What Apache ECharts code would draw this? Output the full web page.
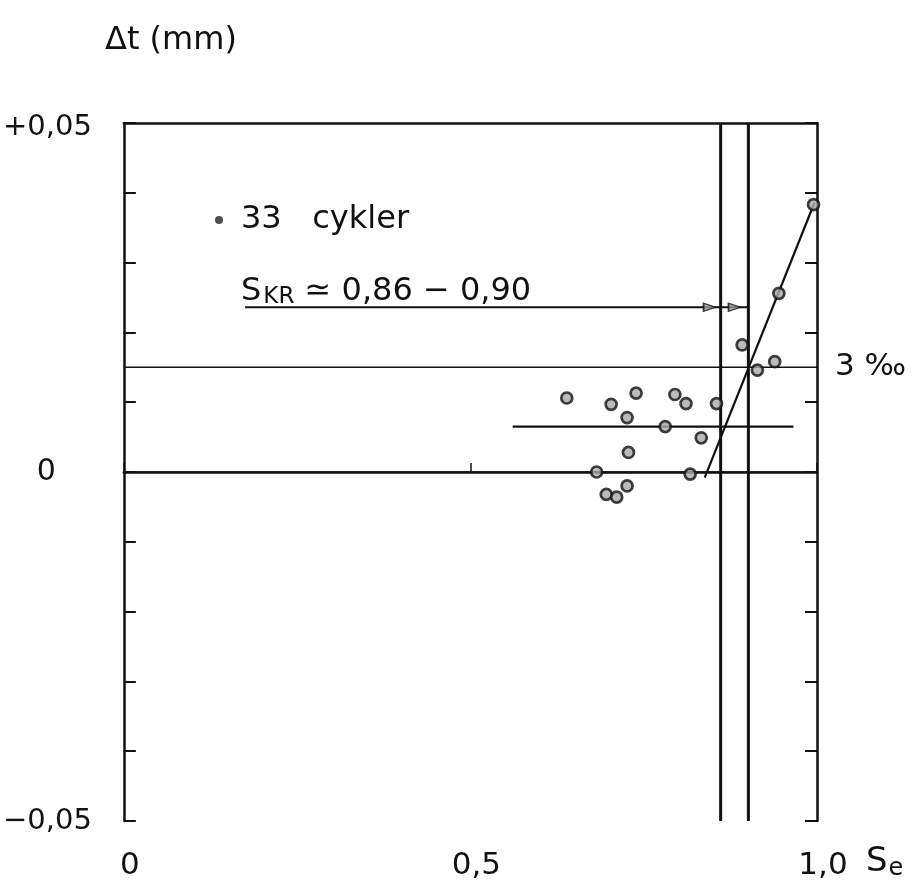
<!DOCTYPE html>
<html>
<head>
<meta charset="utf-8">
<script src="https://cdn.jsdelivr.net/npm/echarts@6/dist/echarts.min.js"></script>
<style>
html,body{margin:0;padding:0;background:#fff;}
#chart{width:919px;height:895px;}
</style>
</head>
<body>
<div id="chart"></div>
<script>
// ---- data ----
const seValues = [0.639,0.703,0.739,0.726,0.795,0.811,0.855,0.781,0.833,0.728,0.682,0.817,0.726,0.696,0.711,0.995,0.945,0.892,0.939,0.914];
const dtValues = [0.0106,0.0097,0.0113,0.0078,0.0111,0.0098,0.0098,0.0065,0.0049,0.0028,0.0000,-0.0003,-0.0020,-0.0032,-0.0036,0.0383,0.0256,0.0182,0.0158,0.0146];
const xTickLabels = {0: '0', 0.5: '0,5', 1: '1,0'};
const yTickLabels = {'0.05': '+0,05', '0': '0', '-0.05': '\u22120,05'};
const zeroLine = [[0, 0], [1, 0]];
const limitLine = [[0, 0.015], [1, 0.015]];
const skrLow = [[0.861, -0.05], [0.861, 0.05]];
const skrHigh = [[0.901, -0.05], [0.901, 0.05]];
const fitLine = [[0.838, -0.0008], [0.996, 0.0385]];
const meanLine = [[0.561, 0.0065], [0.966, 0.0065]];
const arrowLine = [[0.175, 0.0236], [0.901, 0.0236]];
const arrowHeads = [[0.845, 0.0236], [0.881, 0.0236]];
const legendLabel = '33 cykler';

const FONT = 'DejaVu Sans';
const points = seValues.map((v, i) => [v, dtValues[i]]);

function lineSeries(data, width) {
  return {
    type: 'line', data: data, symbol: 'none', silent: true,
    lineStyle: {color: '#111', width: width}, z: 3
  };
}

const chart = echarts.init(document.getElementById('chart'), null, {renderer: 'canvas'});
chart.setOption({
  animation: false,
  backgroundColor: '#fff',
  grid: {left: 121, top: 123, right: 102, bottom: 74, containLabel: false},
  legend: {
    data: [legendLabel], left: 210, top: 199, icon: 'circle',
    itemWidth: 8, itemHeight: 8,
    itemStyle: {color: '#222', borderWidth: 0},
    formatter: name => name.replace(' ', '   '),
    textStyle: {fontFamily: FONT, fontSize: 32, color: '#111', padding: [0, 0, 0, 13]}
  },
  xAxis: [{
    type: 'value', min: 0, max: 1, interval: 0.5, position: 'bottom',
    axisLine: {show: true, lineStyle: {color: '#111', width: 2.5}},
    axisTick: {show: true, inside: true, length: 9, lineStyle: {color: '#111', width: 1.5}},
    splitLine: {show: false},
    axisLabel: {
      margin: 29, fontFamily: FONT, fontSize: 31, color: '#111', padding: [0, 0, 0, 12],
      formatter: v => xTickLabels[v] ?? ''
    }
  }, {
    type: 'value', min: 0, max: 1, position: 'top',
    axisLine: {show: true, onZero: false, lineStyle: {color: '#111', width: 2.5}},
    axisTick: {show: false}, axisLabel: {show: false}, splitLine: {show: false}
  }],
  yAxis: [{
    type: 'value', min: -0.05, max: 0.05, interval: 0.01, position: 'left',
    axisLine: {show: true, onZero: false, lineStyle: {color: '#111', width: 2.5}},
    axisTick: {show: true, inside: true, length: 12, lineStyle: {color: '#111', width: 2}},
    splitLine: {show: false},
    axisLabel: {
      margin: 32, fontFamily: FONT, fontSize: 29, color: '#111',
      formatter: v => {
        const k = String(Math.round(v * 100) / 100);
        if (k === '0') return '{z|0}';
        if (k === '0.05') return '{p|+0,05}';
        return yTickLabels[k] ?? '';
      },
      rich: {
        z: {fontFamily: FONT, fontSize: 30, color: '#111', padding: [0, 36, 0, 0]},
        p: {fontFamily: FONT, fontSize: 29, color: '#111', padding: [8, 0, 0, 0]}
      }
    }
  }, {
    type: 'value', min: -0.05, max: 0.05, interval: 0.01, position: 'right',
    axisLine: {show: true, onZero: false, lineStyle: {color: '#111', width: 2.5}},
    axisTick: {show: true, inside: true, length: 12, lineStyle: {color: '#111', width: 2}},
    axisLabel: {show: false}, splitLine: {show: false}
  }],
  series: [
    lineSeries(zeroLine, 1.5),
    lineSeries(limitLine, 1.5),
    lineSeries(skrLow, 3),
    lineSeries(skrHigh, 3),
    lineSeries(fitLine, 2.2),
    lineSeries(meanLine, 2.2),
    lineSeries(arrowLine, 1.8),
    {
      type: 'scatter', data: arrowHeads, symbol: 'triangle', symbolRotate: -90,
      symbolSize: [8, 12], silent: true, z: 4,
      itemStyle: {color: '#999', borderColor: '#111', borderWidth: 1.5}
    },
    {
      name: legendLabel, type: 'scatter', data: points, symbol: 'circle', symbolSize: 11, z: 5,
      itemStyle: {color: '#aaa', borderColor: '#111', borderWidth: 2.7}
    }
  ],
  graphic: [
    {type: 'text', left: 105, top: 25, style: {text: '\u0394t (mm)', font: '32px "DejaVu Sans"', fill: '#111'}},
    {type: 'text', left: 241, top: 276, style: {
      text: '{s|S}{sub|KR}{t| \u2243 0,86 \u2212 0,90}',
      rich: {
        s: {font: '32px "DejaVu Sans"', fill: '#111'},
        sub: {font: '23px "DejaVu Sans"', fill: '#111', padding: [10, 0, 0, 2]},
        t: {font: '32px "DejaVu Sans"', fill: '#111'}
      }
    }},
    {type: 'text', left: 835, top: 351, style: {text: '3 \u2030', font: '31px "DejaVu Sans"', fill: '#111'}},
    {type: 'text', left: 866, top: 845, style: {
      text: '{s|S}{e|e}',
      rich: {
        s: {font: '34px "DejaVu Sans"', fill: '#111'},
        e: {font: '24px "DejaVu Sans"', fill: '#111', padding: [14, 0, 0, 1]}
      }
    }}
  ]
});
</script>
</body>
</html>
